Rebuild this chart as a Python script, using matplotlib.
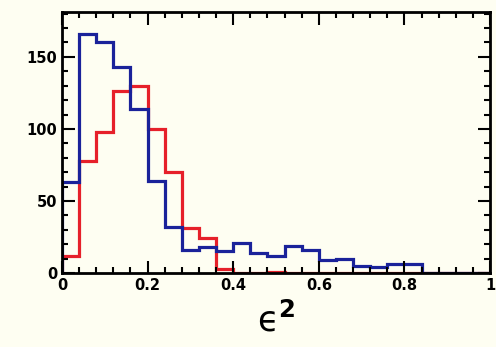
import matplotlib
matplotlib.use('Agg')
import matplotlib.pyplot as plt
import numpy as np
from matplotlib.ticker import MultipleLocator

# bin edges of eps^2, width 0.04
edges = np.arange(0, 1.0001, 0.04)

red_counts = [12, 78, 98, 126, 130, 100, 70, 31, 24, 3, 0, 0, 1,
              0, 0, 0, 0, 0, 0, 0, 0, 0, 0, 0, 0]
blue_counts = [63, 166, 160, 143, 114, 64, 32, 16, 18, 15, 21, 14, 12,
               19, 16, 9, 10, 5, 4, 6, 6, 0, 0, 0, 0]

bg = '#fefef2'
fig = plt.figure(figsize=(4.96, 3.47), dpi=100, facecolor=bg)
ax = fig.add_axes([0.125, 0.213, 0.863, 0.752], facecolor=bg)

ax.stairs(red_counts, edges, color='#e6202a', lw=2.3)
ax.stairs(blue_counts, edges, color='#1a229a', lw=2.3)

ax.set_xlim(0, 1)
ax.set_ylim(0, 181)
ax.xaxis.set_major_locator(MultipleLocator(0.2))
ax.xaxis.set_minor_locator(MultipleLocator(0.04))
ax.yaxis.set_major_locator(MultipleLocator(50))
ax.yaxis.set_minor_locator(MultipleLocator(10))
ax.set_xticks([0, 0.2, 0.4, 0.6, 0.8, 1])
ax.set_xticklabels(['0', '0.2', '0.4', '0.6', '0.8', '1'])

ax.tick_params(which='both', direction='in', top=True, right=True,
               width=1.5, labelsize=10.5)
ax.tick_params(which='major', length=9)
ax.tick_params(which='minor', length=4.5)
for lab in ax.get_xticklabels() + ax.get_yticklabels():
    lab.set_fontweight('bold')
for s in ax.spines.values():
    s.set_linewidth(2)

ax.set_xlabel('$\\mathregular{\u03f5}^{\\mathbf{2}}$', fontsize=25, labelpad=7)

fig.savefig('out.png', dpi=100, facecolor=bg)
